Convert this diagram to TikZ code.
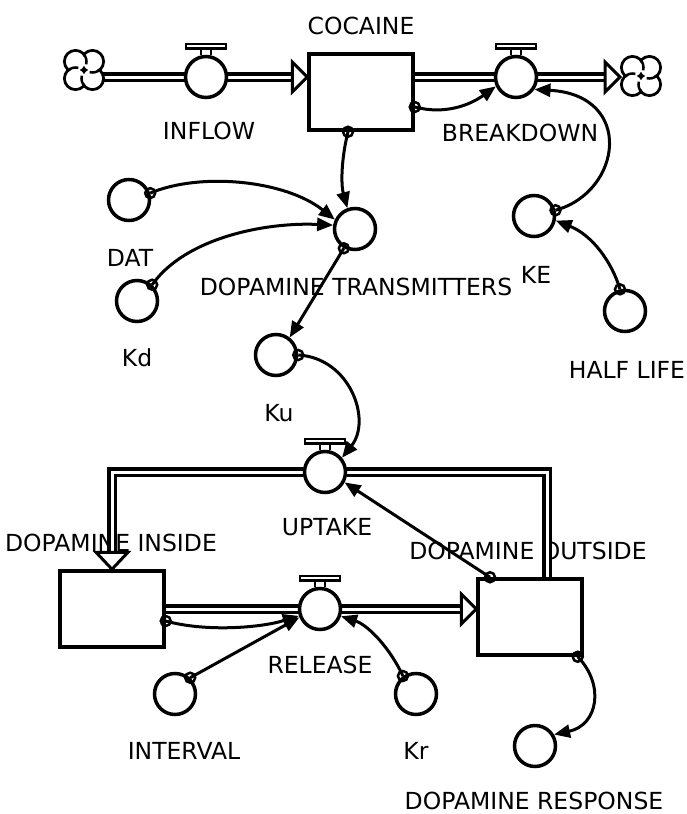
\documentclass[tikz,border=0pt]{standalone}
\usepackage{fontspec}
\setmainfont{DejaVu Sans}
\usetikzlibrary{arrows.meta,positioning,backgrounds}

\begin{document}
\begin{tikzpicture}[x=1pt,y=-1pt,
  stock/.style={rectangle, draw, line width=3.5pt, fill=white, minimum width=104pt, minimum height=76pt},
  aux/.style={circle, draw, line width=3.5pt, fill=white, minimum size=41pt, inner sep=0pt},
  valvebar/.style={rectangle, draw, line width=2.5pt, fill=white, minimum width=40pt, minimum height=4.5pt, inner sep=0pt},
  stem/.style={line width=2.5pt},
  pipe/.style={line width=3.5pt, double=white, double distance=3pt},
  fhead/.style={line width=3pt, fill=white, line join=miter},
  link/.style={line width=3pt, -{Triangle[length=16pt,width=13pt]}},
  tail/.style={circle, draw, line width=2.5pt, minimum size=10pt, inner sep=0pt},
  lbl/.style={font=\fontsize{23.5}{28}\selectfont, inner sep=0pt},
  cloud/.style={minimum size=42pt, inner sep=0pt}]

\useasboundingbox (0,0) rectangle (687,814);

% Stocks
\node[stock] (COC) at (361,92) {};
\node[stock] (DI) at (112,609) {};
\node[stock] (DO) at (530,617) {};

% Flow valves
\node[aux] (INF) at (206,77) {};
\node[aux] (BRK) at (516,77) {};
\node[aux] (UPT) at (325,472) {};
\node[aux] (REL) at (320,609) {};
\foreach \v in {INF,BRK,UPT,REL} {
  \node[valvebar, above=5pt of \v] (bar\v) {};
  \draw[stem] ([xshift=-5pt]\v.north) -- ([xshift=-5pt]bar\v.south)
    ([xshift=5pt]\v.north) -- ([xshift=5pt]bar\v.south);
}

% Converters
\node[aux] (DT) at (355,229) {};
\node[aux] (DAT) at (129,200) {};
\node[aux] (Kd) at (137,301) {};
\node[aux] (KE) at (534,216) {};
\node[aux] (HL) at (625,311) {};
\node[aux] (Ku) at (276,355) {};
\node[aux] (INT) at (175,694) {};
\node[aux] (Kr) at (416,694) {};
\node[aux] (DR) at (535,746) {};

% Labels and pipes go underneath
\begin{pgfonlayer}{background}
\node[lbl] (lCOC) at (361,26) {COCAINE};
\node[lbl] (lINF) at (209,131) {INFLOW};
\node[lbl] (lBRK) at (520,133) {BREAKDOWN};
\node[lbl] (lDAT) at (130,258) {DAT};
\node[lbl] (lDT) at (356,287) {DOPAMINE TRANSMITTERS};
\node[lbl] (lKE) at (536,275) {KE};
\node[lbl] (lKd) at (137,358) {Kd};
\node[lbl] (lHL) at (627,370) {HALF LIFE};
\node[lbl] (lKu) at (279,413) {Ku};
\node[lbl] (lUPT) at (327,527) {UPTAKE};
\node[lbl] (lDI) at (111,543) {DOPAMINE INSIDE};
\node[lbl] (lDO) at (528,551) {DOPAMINE OUTSIDE};
\node[lbl] (lREL) at (320,665) {RELEASE};
\node[lbl] (lINT) at (184,751) {INTERVAL};
\node[lbl] (lKr) at (416,751) {Kr};
\node[lbl] (lDR) at (534,801) {DOPAMINE RESPONSE};

% Flow pipes
\draw[pipe, shorten >=15pt] (95,77) -- (INF -| COC.west);
\draw[pipe, shorten >=15pt] (COC.east |- BRK) -- (620,77);
\draw[pipe, shorten >=17pt] ([xshift=17pt]DO.north) |- (UPT) -| (DI.north);
\draw[pipe, shorten >=15pt] (DI.east |- REL) -- (DO.west |- REL);
\end{pgfonlayer}

% Flow heads
\draw[fhead] (INF -| COC.west) -- ++(-15,-15) -- ++(0,30) -- cycle;
\draw[fhead] (620,77) -- ++(-15,-15) -- ++(0,30) -- cycle;
\draw[fhead] (DO.west |- REL) -- ++(-15,-15) -- ++(0,30) -- cycle;
\draw[fhead] (DI.north) -- ++(-16,-17) -- ++(32,0) -- cycle;

% Clouds
\node[cloud] (src) at (84,70) {};
\node[cloud] (snk) at (641,76) {};
\foreach \c in {src,snk} {
  \foreach \a in {45,135,225,315}
    \draw[line width=3pt] (\c) ++(\a:12pt) circle (11pt);
  \foreach \a in {45,135,225,315}
    \fill[white] (\c) ++(\a:12pt) circle (9.5pt);
  \foreach \a in {45,135,225,315}
    \draw[line width=2.5pt] (\c) ++(\a:12pt) ++(\a+270:11pt) arc[start angle=\a+270, delta angle=-60, radius=11pt];
}

% Connectors
\draw[link] ([yshift=-15pt]COC.east) node[tail] {} .. controls (445,115) and (470,105) .. (BRK.205);
\draw[link] ([xshift=-13pt]COC.south) node[tail] {} .. controls (341,160) and (341,185) .. (DT.110);
\draw[link] (DAT.18) node[tail] {} .. controls (200,172) and (285,180) .. (DT.155);
\draw[link] (Kd.47) node[tail] {} .. controls (185,238) and (265,222) .. (DT.170);
\draw[link] (DT.240) node[tail] {} -- (Ku.52);
\draw[link] (Ku.0) node[tail] {} .. controls (350,358) and (372,420) .. (UPT.40);
\draw[link] ([xshift=-40pt]DO.north) node[tail] {} -- (UPT.-28);
\draw[link] ([yshift=-12pt]DI.east) node[tail] {} .. controls (205,632) and (260,628) .. (REL.198);
\draw[link] (INT.47) node[tail] {} -- (REL.202);
\draw[link] (Kr.126) node[tail] {} .. controls (390,648) and (368,625) .. (REL.-19);
\draw[link] ([xshift=-6pt]DO.south east) node[tail] {} .. controls (605,685) and (598,725) .. (DR.31);
\draw[link] (KE.15) node[tail] {} .. controls (622,192) and (635,95) .. (BRK.-34);
\draw[link] (HL.103) node[tail] {} .. controls (612,262) and (592,235) .. (KE.-12);

\end{tikzpicture}
\end{document}
